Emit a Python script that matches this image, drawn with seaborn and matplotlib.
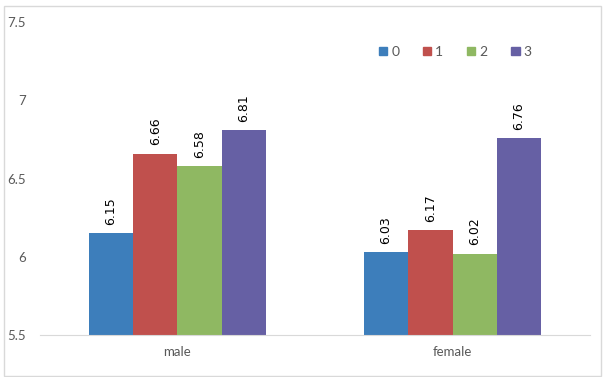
import pandas as pd
import matplotlib
matplotlib.use("Agg")
import matplotlib.pyplot as plt
import matplotlib.patches as mpatches
import seaborn as sns

# Data
sexes = ['male', 'female']
groups = ['0', '1', '2', '3']
male_vals = [6.15, 6.66, 6.58, 6.81]
female_vals = [6.03, 6.17, 6.02, 6.76]
colors = ['#3d7ebb', '#c0504d', '#8fb862', '#6660a4']
yticks = [5.5, 6, 6.5, 7, 7.5]

rows = []
for g, m, f in zip(groups, male_vals, female_vals):
    rows.append({'sex': 'male', 'group': g, 'value': m})
    rows.append({'sex': 'female', 'group': g, 'value': f})
df = pd.DataFrame(rows)

sns.set_style('white')
plt.rcParams['font.family'] = ['Lato', 'DejaVu Sans']

fig = plt.figure(figsize=(6.06, 3.77), dpi=100)
fig.patches.append(mpatches.Rectangle((0.006, 0.003), 0.985, 0.98, transform=fig.transFigure,
                                      fill=False, edgecolor='#d9d9d9', linewidth=1))
ax = fig.add_axes([0.066, 0.111, 0.9076, 0.830])

sns.barplot(data=df, x='sex', y='value', hue='group', order=sexes, hue_order=groups,
            palette=colors, width=0.645, gap=0, saturation=1, linewidth=0,
            ax=ax, legend=False)

for cont in ax.containers:
    ax.bar_label(cont, fmt='%.2f', rotation=90, padding=6, fontsize=9,
                 color='#000000', family='DejaVu Sans')

ax.set_ylim(5.5, 7.5)
ax.set_xlim(-0.5, 1.5)
ax.set_yticks(yticks)
ax.set_yticklabels([f'{t:g}' for t in yticks])
ax.set_xlabel('')
ax.set_ylabel('')
for s in ['top', 'right', 'left']:
    ax.spines[s].set_visible(False)
ax.spines['bottom'].set_color('#d9d9d9')
ax.tick_params(axis='y', length=0, pad=10, labelsize=9.5, labelcolor='#595959')
ax.tick_params(axis='x', length=0, pad=8, labelsize=9.5, labelcolor='#595959')

handles = [mpatches.Patch(color=c, label=g) for c, g in zip(colors, groups)]
ax.legend(handles=handles, ncol=4, frameon=False, loc='center', bbox_to_anchor=(0.755, 0.905),
          handlelength=0.6, handleheight=0.6, handletextpad=0.3, columnspacing=1.7,
          fontsize=10, labelcolor='#595959')

fig.savefig('out.png', dpi=100)
